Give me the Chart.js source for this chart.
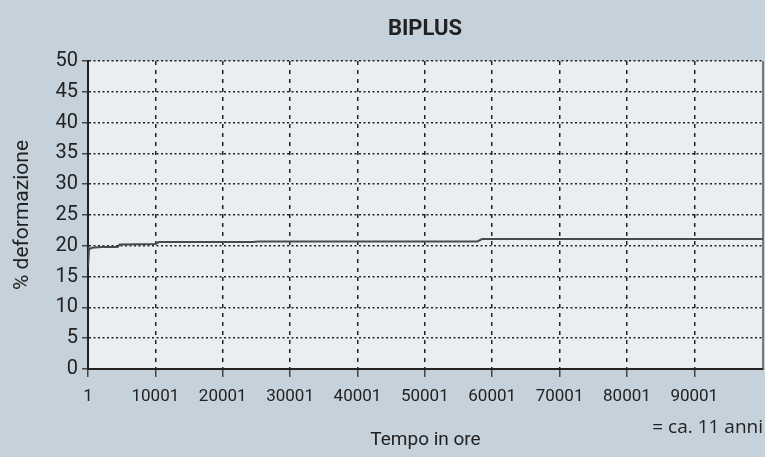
<!DOCTYPE html>
<html>
<head>
<meta charset="utf-8">
<script src="https://cdn.jsdelivr.net/npm/chart.js@4"></script>
<style>
  html, body { margin: 0; padding: 0; background: #c6d2db; }
  #wrap { width: 765px; height: 457px; }
</style>
</head>
<body>
<div id="wrap"><canvas id="creepChart" width="765" height="457"></canvas></div>
<script>
// data
const chartTitle = "BIPLUS";
const hours = [1, 150, 300, 600, 2000, 4400, 4700, 10000, 10500, 24500, 25300, 57800, 58500, 100200];
const deformation = [16.5, 19.6, 19.5, 19.7, 19.8, 19.8, 20.2, 20.3, 20.6, 20.6, 20.7, 20.7, 21.1, 21.1];
const xTicks = [1, 10001, 20001, 30001, 40001, 50001, 60001, 70001, 80001, 90001];
const yTicks = [0, 5, 10, 15, 20, 25, 30, 35, 40, 45, 50];
const noteText = "= ca. 11 anni";

const ink = "#222";

// plot background, frame, title and the note on the right
const decorPlugin = {
    id: "decor",
    beforeDraw(chart) {
        const { ctx, chartArea: a } = chart;
        ctx.save();
        ctx.fillStyle = "#ebeef1";
        ctx.fillRect(a.left, a.top, a.right - a.left, a.bottom - a.top);
        ctx.restore();
    },
    afterDraw(chart) {
        const { ctx, chartArea: a } = chart;
        ctx.save();
        ctx.strokeStyle = "#555";
        ctx.lineWidth = 1.5;
        ctx.beginPath();
        ctx.moveTo(a.right, a.top);
        ctx.lineTo(a.right, a.bottom);
        ctx.stroke();

        ctx.fillStyle = ink;
        ctx.font = "bold 22px Roboto";
        ctx.textAlign = "center";
        ctx.textBaseline = "middle";
        ctx.fillText(chartTitle, 425, 29);

        ctx.font = "19px 'Open Sans'";
        ctx.textAlign = "right";
        ctx.fillText(noteText, 763, 428);
        ctx.restore();
    }
};

new Chart(document.getElementById("creepChart").getContext("2d"), {
    type: "line",
    data: {
        datasets: [{
            data: hours.map((h, i) => ({ x: h, y: deformation[i] })),
            borderColor: "#4a4a4a",
            borderWidth: 2,
            pointRadius: 0,
            tension: 0,
            fill: false
        }]
    },
    options: {
        responsive: false,
        animation: false,
        layout: { padding: { top: 61, right: 2 } },
        plugins: { legend: { display: false }, tooltip: { enabled: false } },
        scales: {
            x: {
                type: "linear",
                min: 1,
                max: 100200,
                afterBuildTicks: s => { s.ticks = xTicks.map(v => ({ value: v })); },
                afterFit: s => { s.height = 88; },
                ticks: {
                    color: ink,
                    font: { family: "Roboto", size: 17 },
                    maxRotation: 0,
                    padding: 10,
                    callback: v => String(v)
                },
                grid: {
                    color: ink,
                    lineWidth: 1.5,
                    tickBorderDash: [],
                    tickLength: 8,
                    tickColor: "#444"
                },
                border: { color: ink, width: 2, dash: [4, 5] },
                title: {
                    display: true,
                    text: "Tempo in ore",
                    color: ink,
                    font: { family: "Roboto", size: 19 },
                    padding: { top: 0, bottom: 5 }
                }
            },
            y: {
                min: 0,
                max: 50,
                afterBuildTicks: s => { s.ticks = yTicks.map(v => ({ value: v })); },
                afterFit: s => { s.width = 88; },
                ticks: {
                    color: ink,
                    font: { family: "Roboto", size: 20 },
                    padding: 4
                },
                grid: {
                    color: ink,
                    lineWidth: 1.5,
                    tickBorderDash: [],
                    tickLength: 6,
                    tickColor: "#444"
                },
                border: { color: ink, width: 2, dash: [2, 2.5] },
                title: {
                    display: true,
                    text: "% deformazione",
                    color: ink,
                    font: { family: "Roboto", size: 21 },
                    padding: { top: 10, bottom: 0 }
                }
            }
        }
    },
    plugins: [decorPlugin]
});
</script>
</body>
</html>
